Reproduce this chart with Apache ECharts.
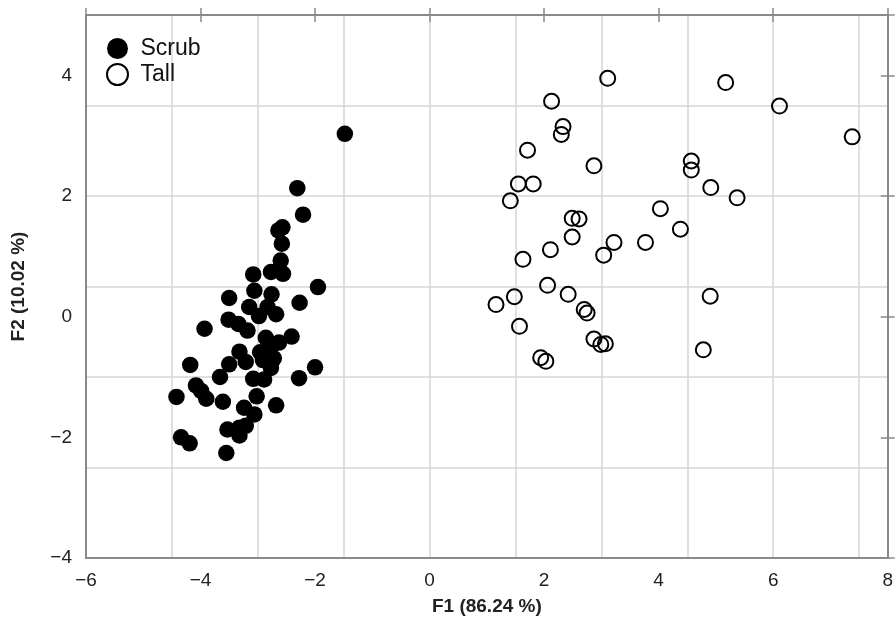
<!DOCTYPE html>
<html>
<head>
<meta charset="utf-8">
<script src="https://cdn.jsdelivr.net/npm/echarts@6/dist/echarts.min.js"></script>
<style>html,body{margin:0;padding:0;background:#fff}#c{width:896px;height:621px}</style>
</head>
<body>
<div id="c"></div>
<script>
// ---- data ----
const scrubF1 = [-1.48,-2.31,-2.21,-2.57,-2.64,-2.58,-2.60,-2.77,-2.56,-3.08,-1.95,-3.06,-2.76,-3.50,-2.27,-3.15,-2.83,-2.98,-2.68,-3.51,-3.93,-3.34,-3.18,-2.86,-2.41,-2.63,-3.32,-2.96,-2.79,-2.72,-2.91,-2.77,-3.21,-3.50,-4.18,-2.00,-3.66,-3.08,-2.89,-2.28,-4.08,-3.99,-4.42,-3.90,-3.02,-3.61,-2.68,-3.24,-3.06,-3.21,-3.32,-3.53,-3.32,-4.34,-4.19,-3.55];
const scrubF2 = [3.03,2.13,1.69,1.48,1.43,1.21,0.93,0.74,0.71,0.70,0.49,0.43,0.37,0.31,0.23,0.16,0.16,0.01,0.04,-0.05,-0.20,-0.12,-0.23,-0.35,-0.33,-0.43,-0.58,-0.59,-0.56,-0.69,-0.72,-0.85,-0.75,-0.79,-0.80,-0.84,-1.00,-1.03,-1.04,-1.02,-1.14,-1.23,-1.33,-1.36,-1.32,-1.41,-1.47,-1.51,-1.62,-1.81,-1.84,-1.87,-1.97,-2.00,-2.10,-2.26];
const tallF1 = [3.11,5.17,2.13,6.11,2.33,2.30,7.38,1.71,2.87,4.57,4.57,1.55,1.81,4.91,1.41,5.37,4.03,2.49,2.61,4.38,2.49,3.22,3.77,2.11,3.04,1.63,2.06,2.42,1.48,4.90,1.16,2.70,2.75,1.57,2.87,2.99,3.07,4.78,1.94,2.03];
const tallF2 = [3.95,3.88,3.57,3.49,3.15,3.02,2.98,2.76,2.50,2.58,2.43,2.20,2.20,2.14,1.92,1.97,1.79,1.63,1.62,1.45,1.32,1.23,1.23,1.11,1.02,0.95,0.52,0.37,0.33,0.34,0.20,0.12,0.06,-0.16,-0.37,-0.46,-0.45,-0.55,-0.68,-0.74];
const seriesNames = ['Scrub', 'Tall'];
const xLabelTicks = [-6,-4,-2,0,2,4,6,8];
const yLabelTicks = [-4,-2,0,2,4];
const xName = 'F1 (86.24 %)';
const yName = 'F2 (10.02 %)';

const pair = (a, b) => a.map((v, i) => [v, b[i]]);
const fmt = v => (v < 0 ? '\u2212' : '') + Math.abs(v);
const AX = '#8a8a8a', GRID = '#d6d6d6';
const FONT = 'Liberation Sans';

const chart = echarts.init(document.getElementById('c'), null, {renderer: 'canvas'});
const xCommon = {type: 'value', min: -6, max: 8, gridIndex: 0};
const yCommon = {type: 'value', min: -4, max: 5, gridIndex: 0};
chart.setOption({
  animation: false,
  backgroundColor: '#fff',
  grid: {left: 86, right: 4, top: 15, bottom: 62, containLabel: false},
  legend: {
    orient: 'vertical', left: 101, top: 32, itemGap: 3,
    itemWidth: 24, itemHeight: 21,
    textStyle: {fontFamily: FONT, fontSize: 23, color: '#111', lineHeight: 22, padding: [0,0,0,6]},
    data: [{name: seriesNames[0]}, {name: seriesNames[1]}]
  },
  xAxis: [
    Object.assign({}, xCommon, {
      position: 'bottom', interval: 2,
      axisLine: {show: true, onZero: false, lineStyle: {color: AX, width: 2}},
      axisTick: {show: false},
      axisLabel: {show: true, margin: 13, fontFamily: FONT, fontSize: 19, color: '#222', formatter: fmt,
                  customValues: xLabelTicks},
      splitLine: {show: false},
      name: xName, nameLocation: 'middle', nameGap: 39,
      nameTextStyle: {fontFamily: FONT, fontSize: 19, fontWeight: 'bold', color: '#222'}
    }),
    Object.assign({}, xCommon, {
      position: 'top', interval: 2,
      axisLine: {show: true, onZero: false, lineStyle: {color: AX, width: 2}},
      axisTick: {show: true, inside: true, length: 7, lineStyle: {color: AX, width: 1.5}},
      axisLabel: {show: false}, splitLine: {show: false}
    }),
    Object.assign({}, xCommon, {
      position: 'top', interval: 2,
      axisLine: {show: false, onZero: false},
      axisTick: {show: true, inside: false, length: 7, lineStyle: {color: AX, width: 1.5}},
      axisLabel: {show: false}, splitLine: {show: false}
    }),
    Object.assign({}, xCommon, {
      position: 'bottom', interval: 1.5, z: 0,
      axisLine: {show: false, onZero: false}, axisTick: {show: false}, axisLabel: {show: false},
      splitLine: {show: true, showMinLine: false, showMaxLine: false, lineStyle: {color: GRID, width: 1.5}}
    })
  ],
  yAxis: [
    Object.assign({}, yCommon, {
      position: 'left', interval: 2,
      axisLine: {show: true, onZero: false, lineStyle: {color: AX, width: 2}},
      axisTick: {show: false},
      axisLabel: {show: true, margin: 14, fontFamily: FONT, fontSize: 19, color: '#222',
                  formatter: v => (v > 4.5 ? '' : fmt(v)), customValues: yLabelTicks},
      splitLine: {show: false},
      name: yName, nameLocation: 'middle', nameGap: 58, nameRotate: 90,
      nameTextStyle: {fontFamily: FONT, fontSize: 19, fontWeight: 'bold', color: '#222'}
    }),
    Object.assign({}, yCommon, {
      position: 'right', interval: 2,
      axisLine: {show: true, onZero: false, lineStyle: {color: AX, width: 2}},
      axisTick: {show: true, inside: true, length: 7, lineStyle: {color: AX, width: 1.5}},
      axisLabel: {show: false}, splitLine: {show: false}
    }),
    Object.assign({}, yCommon, {
      position: 'right', interval: 2,
      axisLine: {show: false, onZero: false},
      axisTick: {show: true, inside: false, length: 7, lineStyle: {color: AX, width: 1.5}},
      axisLabel: {show: false}, splitLine: {show: false}
    }),
    Object.assign({}, yCommon, {
      position: 'left', interval: 1.5, z: 0,
      axisLine: {show: false, onZero: false}, axisTick: {show: false}, axisLabel: {show: false},
      splitLine: {show: true, showMinLine: false, showMaxLine: false, lineStyle: {color: GRID, width: 1.5}}
    })
  ],
  series: [
    {
      name: seriesNames[0], type: 'scatter', xAxisIndex: 0, yAxisIndex: 0,
      symbol: 'circle', symbolSize: 16.5,
      itemStyle: {color: '#000', opacity: 1},
      data: pair(scrubF1, scrubF2), z: 3
    },
    {
      name: seriesNames[1], type: 'scatter', xAxisIndex: 0, yAxisIndex: 0,
      symbol: 'circle', symbolSize: 15,
      itemStyle: {color: 'rgba(255,255,255,0)', borderColor: '#000', borderWidth: 2, opacity: 1},
      data: pair(tallF1, tallF2), z: 3
    }
  ]
});
</script>
</body>
</html>
